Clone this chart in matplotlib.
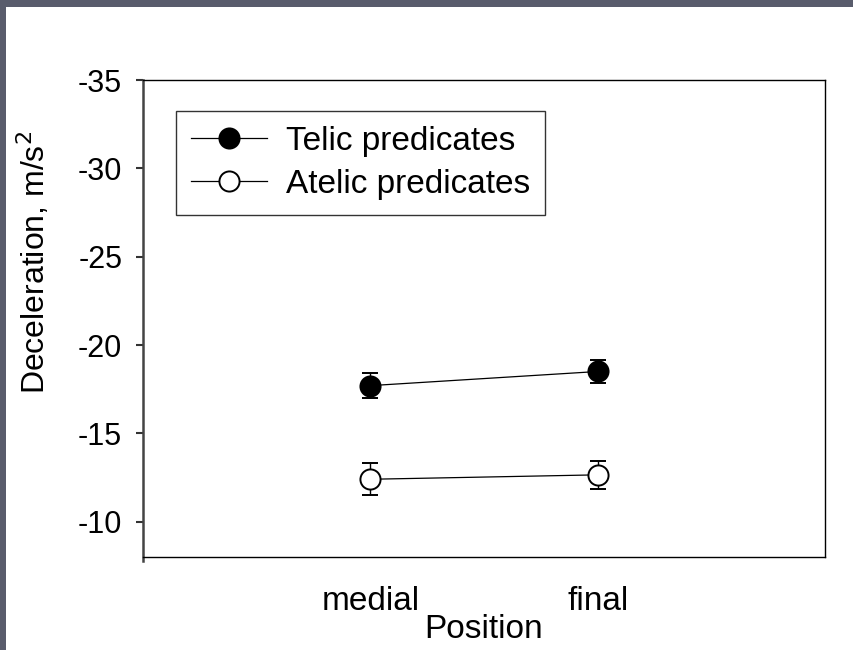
import matplotlib
matplotlib.use("Agg")
import matplotlib.pyplot as plt
from matplotlib.patches import Rectangle
from matplotlib.lines import Line2D

plt.rcParams['font.family'] = ['Liberation Sans', 'DejaVu Sans']
plt.rcParams['axes.unicode_minus'] = False

# mean deceleration per position, with error bars
positions = ['medial', 'final']
telic = [-17.7, -18.5]
telic_err = [0.7, 0.65]
atelic = [-12.4, -12.65]
atelic_err = [0.9, 0.8]
yticks = [-35, -30, -25, -20, -15, -10]

fig = plt.figure(figsize=(8.54, 6.5), dpi=100)
fig.patch.set_facecolor('white')

# slide frame: dark strips along top and left edge
frame_col = '#595c6c'
fig.add_artist(Rectangle((0, 1 - 7 / 650), 1, 7 / 650, transform=fig.transFigure,
                         facecolor=frame_col, edgecolor='none', zorder=0))
fig.add_artist(Rectangle((0, 0), 6 / 854, 1, transform=fig.transFigure,
                         facecolor=frame_col, edgecolor='none', zorder=0))

ax = fig.add_axes([143 / 854, 93 / 650, 682 / 854, 477 / 650])
x = [1, 2]

style = dict(color='black', lw=0.9, marker='o', markersize=14.5,
             markeredgecolor='black', mew=1.4)
ax.errorbar(x, telic, yerr=telic_err, markerfacecolor='black', capsize=5.5,
            capthick=1.4, elinewidth=1.0, **style)
ax.errorbar(x, atelic, yerr=atelic_err, markerfacecolor='white', capsize=5.5,
            capthick=1.4, elinewidth=1.0, **style)

ax.set_xlim(0, 3)
ax.set_ylim(-8, -35)
ax.set_yticks(yticks)
ax.set_yticklabels([str(v) for v in yticks])
ax.set_xticks(x)
ax.set_xticklabels(positions)

ax.tick_params(axis='y', direction='out', length=5, width=1.5, pad=10,
               labelsize=22, color='#333333')
ax.tick_params(axis='x', length=0, pad=21, labelsize=24)

for side in ['top', 'right', 'bottom']:
    ax.spines[side].set_linewidth(1.0)
    ax.spines[side].set_color('black')
ax.spines['left'].set_linewidth(1.8)
ax.spines['left'].set_color('#444444')
ax.spines['left'].set_bounds(-7.8, -35)

ax.set_ylabel('Deceleration, m/s$^2$', fontsize=23)
ax.yaxis.label.set_va('center')
ax.yaxis.set_label_coords(-0.16, 0.618)
ax.set_xlabel('Position', fontsize=24)
ax.xaxis.label.set_va('center')
ax.xaxis.set_label_coords(0.5, -0.152)

# legend without error bars: line with marker only
handles = [Line2D([], [], markerfacecolor='black', **style),
           Line2D([], [], markerfacecolor='white', **style)]
leg = ax.legend(handles, ['Telic predicates', 'Atelic predicates'],
                loc='upper left', bbox_to_anchor=(0.048, 0.935), fontsize=24,
                frameon=True, fancybox=False, edgecolor='black',
                handlelength=2.3, handletextpad=0.55, borderpad=0.45,
                labelspacing=0.36, borderaxespad=0)
leg.get_frame().set_linewidth(1.0)

fig.savefig('out.png', dpi=100, facecolor=fig.get_facecolor())
